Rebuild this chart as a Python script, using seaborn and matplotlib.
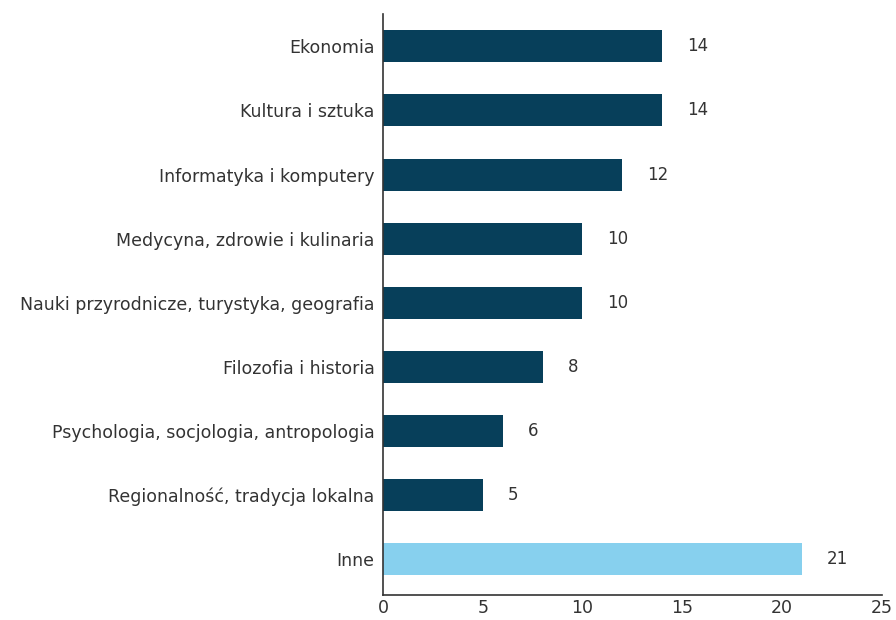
import pandas as pd
import matplotlib.pyplot as plt
import seaborn as sns

categories = ['Ekonomia', 'Kultura i sztuka', 'Informatyka i komputery',
              'Medycyna, zdrowie i kulinaria',
              'Nauki przyrodnicze, turystyka, geografia',
              'Filozofia i historia', 'Psychologia, socjologia, antropologia',
              'Regionalność, tradycja lokalna', 'Inne']
values = [14, 14, 12, 10, 10, 8, 6, 5, 21]
groups = ['main'] * 8 + ['other']

df = pd.DataFrame({'category': categories, 'value': values, 'group': groups})

sns.set_theme(style='white')
plt.rcParams['font.family'] = ['DejaVu Sans']

fig = plt.figure(figsize=(8.96, 6.2), dpi=100)
ax = fig.add_axes([0.4275, 0.04, 0.5565, 0.937])

sns.barplot(data=df, y='category', x='value', hue='group',
            palette={'main': '#073f5a', 'other': '#87d0ee'},
            dodge=False, width=0.5, saturation=1, linewidth=0,
            legend=False, ax=ax)

for i, v in enumerate(values):
    ax.annotate(str(v), (v, i), xytext=(18, 0), textcoords='offset points',
                va='center', ha='left', fontsize=12, color='#333333')

ax.set_xlim(0, 25)
ax.set_ylim(8.56, -0.5)
ax.set_xticks([0, 5, 10, 15, 20, 25])
ax.set_xlabel('')
ax.set_ylabel('')
ax.tick_params(axis='both', length=0, labelsize=12.5, colors='#333333')
ax.tick_params(axis='y', pad=6)
ax.tick_params(axis='x', pad=3)
for s in ['top', 'right']:
    ax.spines[s].set_visible(False)
for s in ['left', 'bottom']:
    ax.spines[s].set_color('#333333')
    ax.spines[s].set_linewidth(1.2)

fig.savefig('out.png', dpi=100)
